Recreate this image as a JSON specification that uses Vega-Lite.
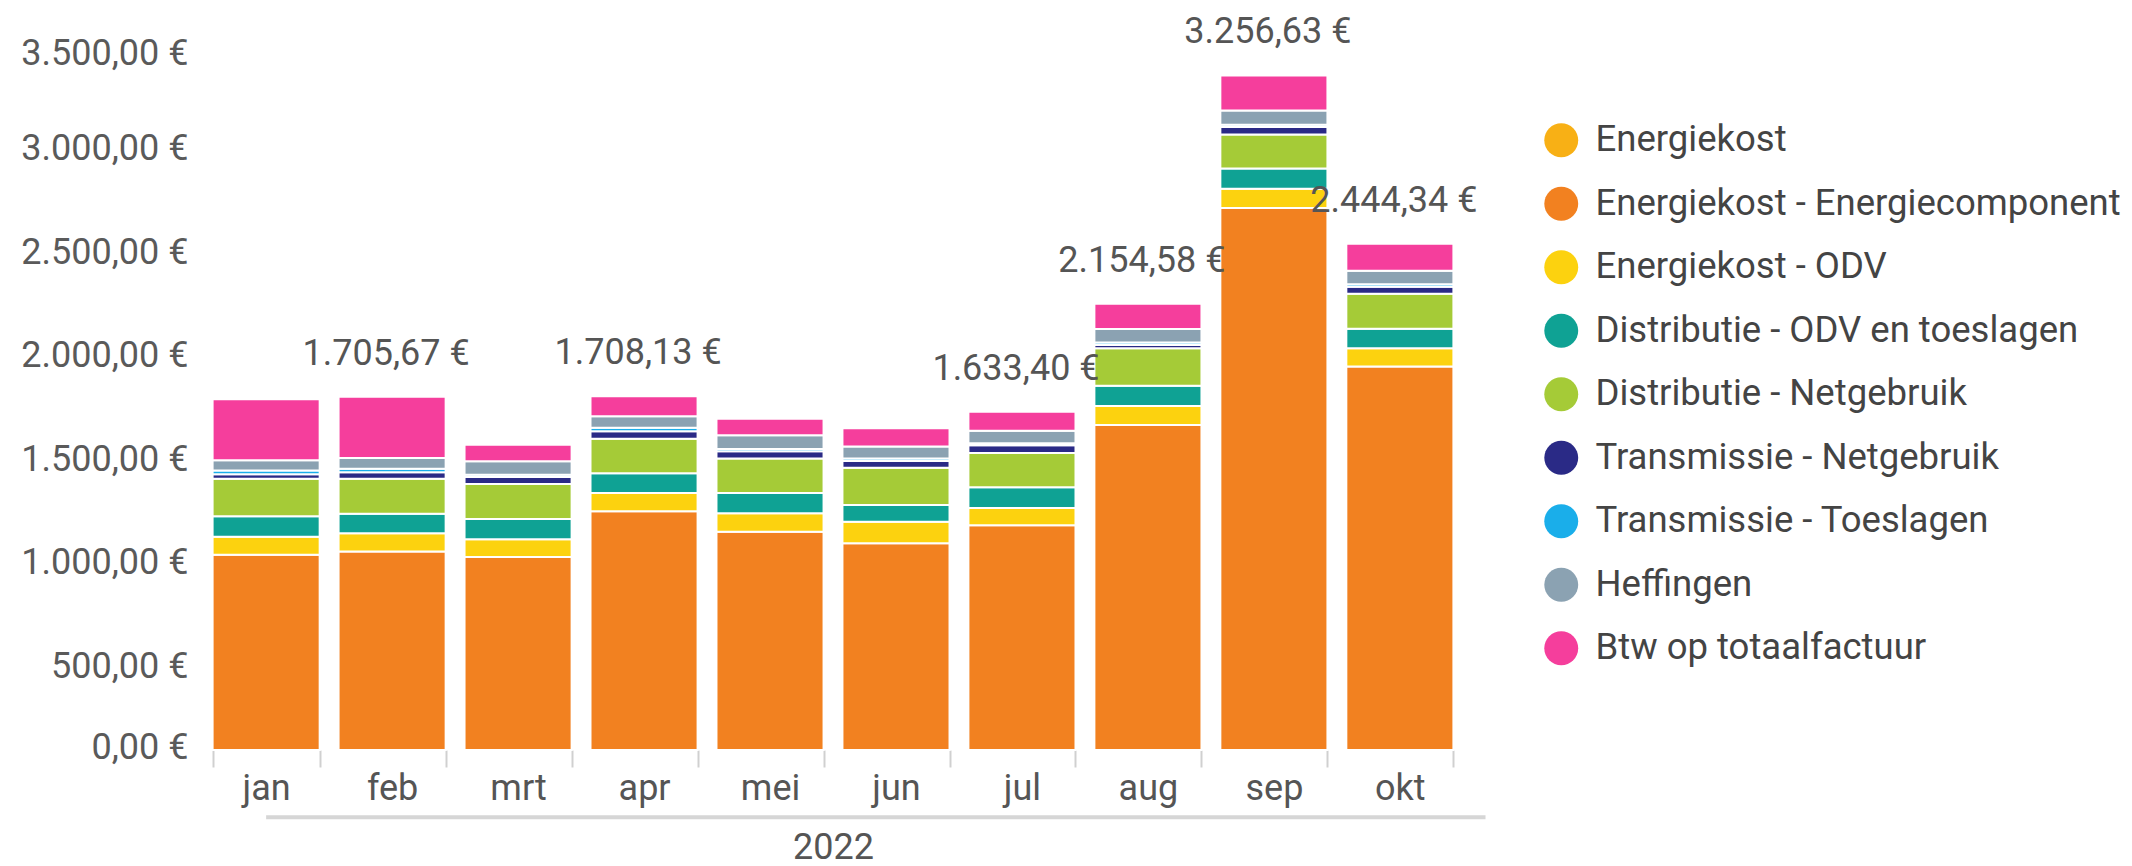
{
  "$schema": "https://vega.github.io/schema/vega-lite/v6.json",
  "width": 1266,
  "height": 725,
  "autosize": {"type": "none"},
  "padding": {"left": 200, "top": 25, "right": 666, "bottom": 116},
  "background": "white",
  "config": {
    "font": "Roboto",
    "view": {"stroke": null},
    "locale": {"number": {"decimal": ",", "thousands": ".", "grouping": [3], "currency": ["", " €"]}}
  },
  "datasets": {
    "bars": [
      {"m": "jan", "c": "Energiekost - Energiecomponent", "k": 2, "v": 942},
      {"m": "jan", "c": "Energiekost - ODV", "k": 3, "v": 88},
      {"m": "jan", "c": "Distributie - ODV en toeslagen", "k": 4, "v": 98},
      {"m": "jan", "c": "Distributie - Netgebruik", "k": 5, "v": 181},
      {"m": "jan", "c": "Transmissie - Netgebruik", "k": 6, "v": 22},
      {"m": "jan", "c": "Transmissie - Toeslagen", "k": 7, "v": 18},
      {"m": "jan", "c": "Heffingen", "k": 8, "v": 50},
      {"m": "jan", "c": "Btw op totaalfactuur", "k": 9, "v": 294},
      {"m": "feb", "c": "Energiekost - Energiecomponent", "k": 2, "v": 958},
      {"m": "feb", "c": "Energiekost - ODV", "k": 3, "v": 88},
      {"m": "feb", "c": "Distributie - ODV en toeslagen", "k": 4, "v": 95},
      {"m": "feb", "c": "Distributie - Netgebruik", "k": 5, "v": 169},
      {"m": "feb", "c": "Transmissie - Netgebruik", "k": 6, "v": 31},
      {"m": "feb", "c": "Transmissie - Toeslagen", "k": 7, "v": 17},
      {"m": "feb", "c": "Heffingen", "k": 8, "v": 52},
      {"m": "feb", "c": "Btw op totaalfactuur", "k": 9, "v": 295.67},
      {"m": "mrt", "c": "Energiekost - Energiecomponent", "k": 2, "v": 932},
      {"m": "mrt", "c": "Energiekost - ODV", "k": 3, "v": 85},
      {"m": "mrt", "c": "Distributie - ODV en toeslagen", "k": 4, "v": 98},
      {"m": "mrt", "c": "Distributie - Netgebruik", "k": 5, "v": 169},
      {"m": "mrt", "c": "Transmissie - Netgebruik", "k": 6, "v": 34},
      {"m": "mrt", "c": "Transmissie - Toeslagen", "k": 7, "v": 11},
      {"m": "mrt", "c": "Heffingen", "k": 8, "v": 65},
      {"m": "mrt", "c": "Btw op totaalfactuur", "k": 9, "v": 80},
      {"m": "apr", "c": "Energiekost - Energiecomponent", "k": 2, "v": 1152},
      {"m": "apr", "c": "Energiekost - ODV", "k": 3, "v": 89},
      {"m": "apr", "c": "Distributie - ODV en toeslagen", "k": 4, "v": 95},
      {"m": "apr", "c": "Distributie - Netgebruik", "k": 5, "v": 167},
      {"m": "apr", "c": "Transmissie - Netgebruik", "k": 6, "v": 36},
      {"m": "apr", "c": "Transmissie - Toeslagen", "k": 7, "v": 17},
      {"m": "apr", "c": "Heffingen", "k": 8, "v": 55.44},
      {"m": "apr", "c": "Btw op totaalfactuur", "k": 9, "v": 96.69},
      {"m": "mei", "c": "Energiekost - Energiecomponent", "k": 2, "v": 1054},
      {"m": "mei", "c": "Energiekost - ODV", "k": 3, "v": 89},
      {"m": "mei", "c": "Distributie - ODV en toeslagen", "k": 4, "v": 98},
      {"m": "mei", "c": "Distributie - Netgebruik", "k": 5, "v": 166},
      {"m": "mei", "c": "Transmissie - Netgebruik", "k": 6, "v": 35},
      {"m": "mei", "c": "Transmissie - Toeslagen", "k": 7, "v": 11},
      {"m": "mei", "c": "Heffingen", "k": 8, "v": 66},
      {"m": "mei", "c": "Btw op totaalfactuur", "k": 9, "v": 80},
      {"m": "jun", "c": "Energiekost - Energiecomponent", "k": 2, "v": 998},
      {"m": "jun", "c": "Energiekost - ODV", "k": 3, "v": 104},
      {"m": "jun", "c": "Distributie - ODV en toeslagen", "k": 4, "v": 81},
      {"m": "jun", "c": "Distributie - Netgebruik", "k": 5, "v": 180},
      {"m": "jun", "c": "Transmissie - Netgebruik", "k": 6, "v": 32},
      {"m": "jun", "c": "Transmissie - Toeslagen", "k": 7, "v": 12},
      {"m": "jun", "c": "Heffingen", "k": 8, "v": 58},
      {"m": "jun", "c": "Btw op totaalfactuur", "k": 9, "v": 88},
      {"m": "jul", "c": "Energiekost - Energiecomponent", "k": 2, "v": 1085},
      {"m": "jul", "c": "Energiekost - ODV", "k": 3, "v": 83.5},
      {"m": "jul", "c": "Distributie - ODV en toeslagen", "k": 4, "v": 99.5},
      {"m": "jul", "c": "Distributie - Netgebruik", "k": 5, "v": 166},
      {"m": "jul", "c": "Transmissie - Netgebruik", "k": 6, "v": 37},
      {"m": "jul", "c": "Transmissie - Toeslagen", "k": 7, "v": 10},
      {"m": "jul", "c": "Heffingen", "k": 8, "v": 59.94},
      {"m": "jul", "c": "Btw op totaalfactuur", "k": 9, "v": 92.46},
      {"m": "aug", "c": "Energiekost - Energiecomponent", "k": 2, "v": 1569},
      {"m": "aug", "c": "Energiekost - ODV", "k": 3, "v": 92},
      {"m": "aug", "c": "Distributie - ODV en toeslagen", "k": 4, "v": 97},
      {"m": "aug", "c": "Distributie - Netgebruik", "k": 5, "v": 181.5},
      {"m": "aug", "c": "Transmissie - Netgebruik", "k": 6, "v": 16},
      {"m": "aug", "c": "Transmissie - Toeslagen", "k": 7, "v": 11.5},
      {"m": "aug", "c": "Heffingen", "k": 8, "v": 65.6},
      {"m": "aug", "c": "Btw op totaalfactuur", "k": 9, "v": 121.98},
      {"m": "sep", "c": "Energiekost - Energiecomponent", "k": 2, "v": 2617},
      {"m": "sep", "c": "Energiekost - ODV", "k": 3, "v": 93},
      {"m": "sep", "c": "Distributie - ODV en toeslagen", "k": 4, "v": 97},
      {"m": "sep", "c": "Distributie - Netgebruik", "k": 5, "v": 164},
      {"m": "sep", "c": "Transmissie - Netgebruik", "k": 6, "v": 37},
      {"m": "sep", "c": "Transmissie - Toeslagen", "k": 7, "v": 10},
      {"m": "sep", "c": "Heffingen", "k": 8, "v": 69},
      {"m": "sep", "c": "Btw op totaalfactuur", "k": 9, "v": 169.63},
      {"m": "okt", "c": "Energiekost - Energiecomponent", "k": 2, "v": 1851},
      {"m": "okt", "c": "Energiekost - ODV", "k": 3, "v": 88.5},
      {"m": "okt", "c": "Distributie - ODV en toeslagen", "k": 4, "v": 94.5},
      {"m": "okt", "c": "Distributie - Netgebruik", "k": 5, "v": 168},
      {"m": "okt", "c": "Transmissie - Netgebruik", "k": 6, "v": 34},
      {"m": "okt", "c": "Transmissie - Toeslagen", "k": 7, "v": 12.6},
      {"m": "okt", "c": "Heffingen", "k": 8, "v": 65.4},
      {"m": "okt", "c": "Btw op totaalfactuur", "k": 9, "v": 130.34}
    ],
    "totals": [
      {"m": "feb", "t": 1705.67},
      {"m": "apr", "t": 1708.13},
      {"m": "jul", "t": 1633.40},
      {"m": "aug", "t": 2154.58},
      {"m": "sep", "t": 3256.63},
      {"m": "okt", "t": 2444.34}
    ]
  },
  "layer": [
    {
      "data": {"name": "bars"},
      "mark": {"type": "bar", "stroke": "white", "strokeWidth": 2},
      "encoding": {
        "x": {
          "field": "m", "type": "nominal",
          "scale": {"domain": ["jan", "feb", "mrt", "apr", "mei", "jun", "jul", "aug", "sep", "okt"], "paddingInner": 0.15, "paddingOuter": 0.1},
          "axis": {
            "title": "2022", "domain": false, "tickBand": "extent", "tickSize": 17, "tickColor": "#d0d0d0", "tickWidth": 2,
            "labelFontSize": 36, "labelColor": "#555555", "labelPadding": 4, "labelAngle": 0,
            "titleFontSize": 36, "titleFontWeight": "normal", "titleColor": "#555555", "titlePadding": 24
          }
        },
        "y": {
          "field": "v", "type": "quantitative", "stack": "zero",
          "scale": {"domain": [0, 3500], "nice": false},
          "axis": {
            "title": null, "values": [0, 500, 1000, 1500, 2000, 2500, 3000, 3500], "format": "$,.2f",
            "domain": false, "ticks": false, "grid": false,
            "labelFontSize": 36, "labelColor": "#5a5a5a", "labelPadding": 12,
            "labelOffset": {"condition": [{"test": "datum.value === 0", "value": -3}, {"test": "datum.value === 3500", "value": 28}], "value": 20}
          }
        },
        "color": {
          "field": "c", "type": "nominal",
          "scale": {
            "domain": ["Energiekost", "Energiekost - Energiecomponent", "Energiekost - ODV", "Distributie - ODV en toeslagen", "Distributie - Netgebruik", "Transmissie - Netgebruik", "Transmissie - Toeslagen", "Heffingen", "Btw op totaalfactuur"],
            "range": ["#F8B015", "#F28120", "#FCD20F", "#0FA294", "#A5CB37", "#2A2A86", "#1AAEEA", "#8BA2B2", "#F53E9C"]
          },
          "legend": {
            "title": null, "orient": "none", "legendX": 1343, "legendY": 97, "padding": 0,
            "symbolType": "circle", "symbolSize": 1150, "symbolStrokeWidth": 0, "symbolOpacity": 1,
            "labelFontSize": 36.5, "labelColor": "#444444", "labelOffset": 16, "rowPadding": 26.5, "labelLimit": 1000
          }
        },
        "order": {"field": "k", "type": "quantitative"}
      }
    },
    {
      "data": {"name": "totals"},
      "mark": {"type": "text", "dy": -43, "dx": -6, "fontSize": 36, "color": "#555555", "baseline": "middle"},
      "encoding": {
        "x": {"field": "m", "type": "nominal"},
        "y": {"field": "t", "type": "quantitative"},
        "text": {"field": "t", "type": "quantitative", "format": "$,.2f"}
      }
    },
    {
      "data": {"values": [{}]},
      "mark": {"type": "rule", "color": "#d6d6d6", "strokeWidth": 4},
      "encoding": {
        "x": {"datum": "jan", "type": "nominal", "bandPosition": 0.5},
        "x2": {"datum": "okt", "bandPosition": 1.3},
        "y": {"datum": -325, "type": "quantitative"}
      }
    }
  ]
}
